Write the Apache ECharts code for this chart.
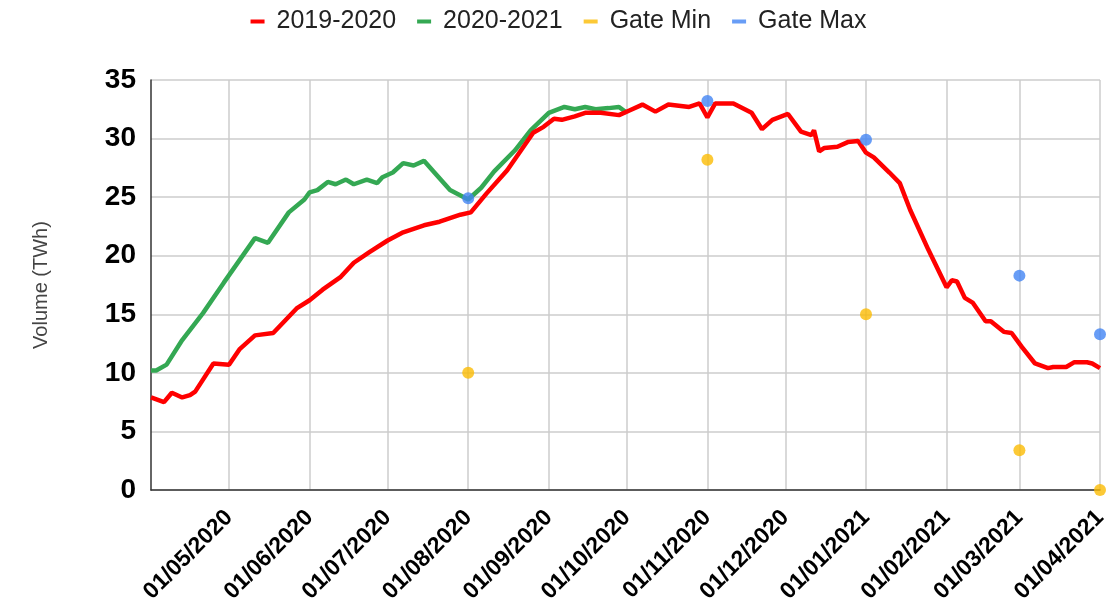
<!DOCTYPE html>
<html>
<head>
<meta charset="utf-8">
<script src="https://cdn.jsdelivr.net/npm/echarts@6/dist/echarts.min.js"></script>
<style>
  html, body { margin: 0; padding: 0; background: #fff; }
  #chart { width: 1117px; height: 616px; }
</style>
</head>
<body>
<div id="chart"></div>
<script>
// daily categories, 01/04/2020 .. 01/04/2021
const days = [];
for (let i = 0; i <= 365; i++) {
  days.push(new Date(Date.UTC(2020, 3, 1) + i * 86400000).toISOString().slice(0, 10));
}

const redDates = [
  '2020-04-01', '2020-04-06', '2020-04-09', '2020-04-13', '2020-04-16', '2020-04-18', '2020-04-25', '2020-05-01',
  '2020-05-05', '2020-05-11', '2020-05-18', '2020-05-27', '2020-06-01', '2020-06-06', '2020-06-13', '2020-06-18',
  '2020-06-24', '2020-07-01', '2020-07-07', '2020-07-15', '2020-07-21', '2020-07-29', '2020-08-02', '2020-08-08',
  '2020-08-16', '2020-08-26', '2020-08-30', '2020-09-03', '2020-09-06', '2020-09-11', '2020-09-15', '2020-09-21',
  '2020-09-28', '2020-10-02', '2020-10-07', '2020-10-12', '2020-10-17', '2020-10-25', '2020-10-29', '2020-11-01',
  '2020-11-04', '2020-11-11', '2020-11-18', '2020-11-22', '2020-11-26', '2020-12-02', '2020-12-07', '2020-12-11',
  '2020-12-12', '2020-12-14', '2020-12-16', '2020-12-21', '2020-12-25', '2020-12-29', '2021-01-01', '2021-01-04',
  '2021-01-10', '2021-01-14', '2021-01-18', '2021-01-25', '2021-02-01', '2021-02-03', '2021-02-05', '2021-02-08',
  '2021-02-11', '2021-02-16', '2021-02-18', '2021-02-23', '2021-02-26', '2021-03-02', '2021-03-07', '2021-03-12',
  '2021-03-14', '2021-03-19', '2021-03-22', '2021-03-27', '2021-03-29', '2021-04-01'
];
const redValues = [
  7.9, 7.5, 8.3, 7.9, 8.1, 8.4, 10.8, 10.7,
  12.0, 13.2, 13.4, 15.5, 16.2, 17.1, 18.2, 19.4,
  20.3, 21.3, 22.0, 22.6, 22.9, 23.5, 23.7, 25.3,
  27.3, 30.5, 31.0, 31.7, 31.6, 31.9, 32.2, 32.2,
  32.0, 32.4, 32.9, 32.3, 32.9, 32.7, 33.0, 31.8,
  33.0, 33.0, 32.2, 30.8, 31.6, 32.1, 30.6, 30.3,
  30.7, 28.9, 29.2, 29.3, 29.7, 29.8, 28.8, 28.4,
  27.1, 26.2, 23.9, 20.5, 17.3, 17.9, 17.8, 16.4,
  16.0, 14.4, 14.4, 13.5, 13.4, 12.2, 10.8, 10.4,
  10.5, 10.5, 10.9, 10.9, 10.8, 10.4
];

const greenDates = [
  '2020-04-01', '2020-04-03', '2020-04-07', '2020-04-13', '2020-04-21', '2020-04-29', '2020-05-05', '2020-05-11',
  '2020-05-16', '2020-05-24', '2020-05-30', '2020-06-01', '2020-06-04', '2020-06-08', '2020-06-11', '2020-06-15',
  '2020-06-18', '2020-06-23', '2020-06-27', '2020-06-29', '2020-07-03', '2020-07-07', '2020-07-11', '2020-07-15',
  '2020-07-19', '2020-07-25', '2020-08-01', '2020-08-06', '2020-08-11', '2020-08-19', '2020-08-25', '2020-09-01',
  '2020-09-07', '2020-09-11', '2020-09-15', '2020-09-19', '2020-09-24', '2020-09-28', '2020-10-01'
];
const greenValues = [
  10.2, 10.2, 10.7, 12.8, 15.1, 17.7, 19.6, 21.5,
  21.1, 23.7, 24.8, 25.4, 25.6, 26.3, 26.1, 26.5,
  26.1, 26.5, 26.2, 26.7, 27.1, 27.9, 27.7, 28.1,
  27.1, 25.6, 24.8, 25.8, 27.2, 29.0, 30.7, 32.2,
  32.7, 32.5, 32.7, 32.5, 32.6, 32.7, 32.2
];

const gateDates = ['2020-08-01', '2020-11-01', '2021-01-01', '2021-03-01', '2021-04-01'];
const gateMin = [10, 28.2, 15, 3.4, 0];
const gateMax = [24.9, 33.2, 29.9, 18.3, 13.3];

const yTicks = [0, 5, 10, 15, 20, 25, 30, 35];

const zip = (xs, ys) => xs.map((x, i) => [x, ys[i]]);
const monthStart = (idx, val) => idx > 0 && val.slice(8, 10) === '01';

const chart = echarts.init(document.getElementById('chart'));
chart.setOption({
  animation: false,
  textStyle: { fontFamily: 'Arial, "Liberation Sans", sans-serif' },
  legend: {
    top: 4,
    left: 'center',
    itemWidth: 14,
    itemHeight: 4,
    itemGap: 21,
    textStyle: { fontSize: 25, color: '#222', padding: [0, 0, 0, 7] },
    data: [
      { name: '2019-2020', icon: 'rect' },
      { name: '2020-2021', icon: 'rect' },
      { name: 'Gate Min', icon: 'rect' },
      { name: 'Gate Max', icon: 'rect' }
    ]
  },
  grid: { left: 151, right: 17, top: 80, bottom: 126 },
  xAxis: {
    type: 'category',
    data: days,
    boundaryGap: false,
    axisLine: { lineStyle: { color: '#333', width: 1.5 } },
    axisTick: { show: false },
    axisLabel: {
      interval: monthStart,
      rotate: 45,
      margin: 24,
      fontSize: 23,
      fontWeight: 'bold',
      color: '#000',
      formatter: v => v.slice(8, 10) + '/' + v.slice(5, 7) + '/' + v.slice(0, 4)
    },
    splitLine: { show: true, interval: monthStart, lineStyle: { color: '#ccc', width: 1.5 } }
  },
  yAxis: {
    type: 'value',
    min: yTicks[0],
    max: yTicks[yTicks.length - 1],
    interval: 5,
    name: 'Volume (TWh)',
    nameLocation: 'middle',
    nameGap: 100,
    nameTextStyle: { fontSize: 20, color: '#444' },
    axisLine: { show: true, lineStyle: { color: '#333', width: 1.5 } },
    axisTick: { show: false },
    axisLabel: { fontSize: 28, fontWeight: 'bold', color: '#000', margin: 15 },
    splitLine: { lineStyle: { color: '#ccc', width: 1.5 } }
  },
  series: [
    {
      name: '2019-2020',
      type: 'line',
      data: zip(redDates, redValues),
      showSymbol: false,
      color: '#ff0000',
      lineStyle: { width: 4.5 },
      z: 3
    },
    {
      name: '2020-2021',
      type: 'line',
      data: zip(greenDates, greenValues),
      showSymbol: false,
      color: '#34a853',
      lineStyle: { width: 4.5 },
      z: 2
    },
    {
      name: 'Gate Min',
      type: 'scatter',
      data: zip(gateDates, gateMin),
      symbolSize: 12,
      color: '#fbbc04',
      z: 4
    },
    {
      name: 'Gate Max',
      type: 'scatter',
      data: zip(gateDates, gateMax),
      symbolSize: 12,
      color: '#4285f4',
      z: 4
    }
  ]
});
</script>
</body>
</html>
